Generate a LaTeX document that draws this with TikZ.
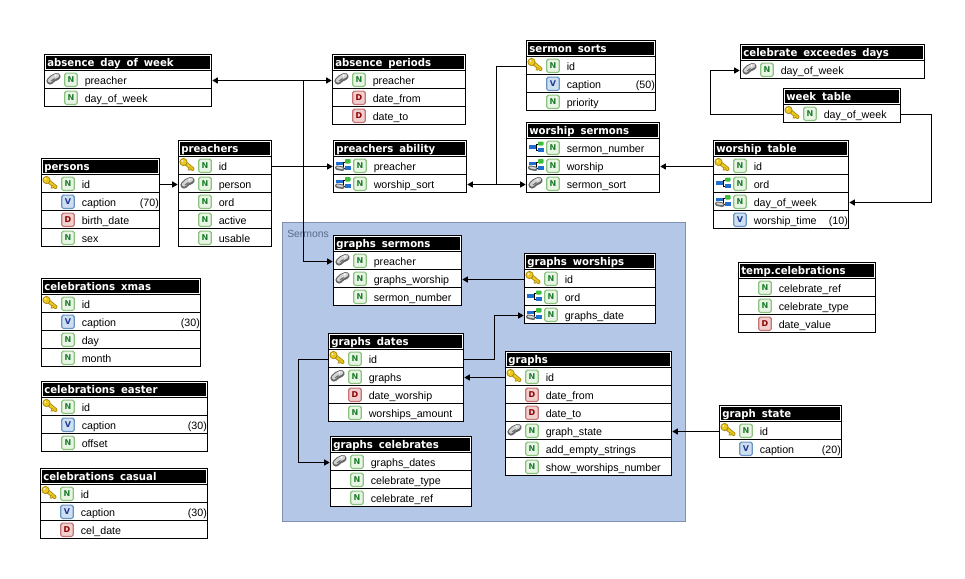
\documentclass[tikz,border=0pt]{standalone}
\usepackage{fontspec}
\setmainfont{Liberation Sans}
\newfontfamily\titlefont[FakeStretch=0.95]{DejaVu Sans}
\newfontfamily\badgefont{DejaVu Sans}
\usetikzlibrary{arrows.meta,calc}
\definecolor{groupfill}{HTML}{B4C7E7}
\definecolor{groupline}{HTML}{7F90B0}
\definecolor{grouptext}{HTML}{5A6B8C}
\definecolor{keygold}{HTML}{EDC81E}
\definecolor{keydark}{HTML}{A88A10}
\definecolor{linkdark}{HTML}{666666}
\definecolor{linklight}{HTML}{D4D4D4}
\definecolor{treeblue}{HTML}{1F6FD0}
\definecolor{treegreen}{HTML}{3CC03C}
\definecolor{Nline}{HTML}{8CC280}\definecolor{Nfill}{HTML}{E9F5E4}\definecolor{Ntext}{HTML}{1E7D2E}
\definecolor{Vline}{HTML}{6A94C4}\definecolor{Vfill}{HTML}{CFDFF2}\definecolor{Vtext}{HTML}{1F3A93}
\definecolor{Dline}{HTML}{C47474}\definecolor{Dfill}{HTML}{F0CFCF}\definecolor{Dtext}{HTML}{8B0000}
\newcommand\titlesetup{\titlefont\bfseries\fontsize{8}{9}\selectfont\spaceskip 0.55em\relax}
\tikzset{
  x=0.75pt,y=-0.75pt,
  rowbox/.style={draw=black,fill=white,line width=0.75pt,inner sep=0pt,outer sep=0pt,minimum height=13.5pt},
  headbox/.style={draw=black,fill=white,line width=0.75pt,inner sep=0pt,outer sep=0pt,minimum height=12pt},
  headbar/.style={fill=black,inner sep=0pt,outer sep=0pt,minimum height=10pt},
  headtext/.style={text=white,inner sep=0pt,anchor=base west,font=\titlesetup},
  coltext/.style={text=black,inner sep=0pt,anchor=base west,font=\fontsize{8}{9}\selectfont},
  sizetext/.style={text=black,inner sep=0pt,anchor=base east,font=\fontsize{8}{9}\selectfont},
  typebadge/.style={rounded corners=1.2pt,line width=0.9pt,minimum width=9.4pt,minimum height=10pt,inner sep=0pt,outer sep=0pt,font=\badgefont\bfseries\fontsize{6}{6}\selectfont},
  typeN/.style={typebadge,draw=Nline,fill=Nfill,text=Ntext},
  typeV/.style={typebadge,draw=Vline,fill=Vfill,text=Vtext},
  typeD/.style={typebadge,draw=Dline,fill=Dfill,text=Dtext},
  typed/.style={type#1},
  conn/.style={draw=black,line width=0.75pt},
  fk/.style={conn,-{Triangle[length=4.2pt,width=4.6pt]},shorten >=0.6pt},
  dn/.style={yshift=-0.75pt},
}
% icons, local unit = 1px, origin at (table left, row centre)
\newcommand\iconno{}
\newcommand\iconkey{%
  \draw[keydark,line width=3pt,line cap=round] (8,-1.5) -- (14,3.5);
  \draw[keygold,line width=1.7pt,line cap=round] (8,-1.5) -- (14,3.5);
  \fill[keydark] (10.5,1.5) -- (9,4.8) -- (11,5) -- (13,3) -- cycle;
  \fill[keygold] (10.7,2) -- (10,4) -- (11,4.2) -- (12.3,3) -- cycle;
  \filldraw[draw=keydark,fill=keygold,line width=0.6pt] (5,-3.5) circle (3.6);
  \fill[white] (3.8,-4.6) circle (0.9);}
\newcommand\iconlink{%
  \draw[linkdark,line width=5.4pt,line cap=round] (5.5,1.5) .. controls (8,0) and (9,-3) .. (12.5,-3);
  \draw[linklight,line width=3.2pt,line cap=round] (5.5,1) .. controls (8,-0.5) and (9,-3.5) .. (12.5,-3.8);
  \fill[white] (11,-4) circle (1.1);
  \draw[linkdark,line width=0.7pt] (6.5,1.5) -- (10,-1);}
\newcommand\icontree{%
  \draw[black,line width=0.5pt] (8,-0.5) -- (10,-0.5) (10,-3.5) -- (10,2.5) -- (12,2.5) (10,-3.5) -- (12,-3.5);
  \fill[treeblue] (2,-2.5) rectangle (9,1.5);
  \fill[treeblue] (11,0.5) rectangle (17.5,4.5);
  \fill[treegreen,rounded corners=0.6pt] (11.5,-6) rectangle (17,-2);}
\newcommand\iconfk{%
  \draw[black,line width=0.5pt] (8,-1.5) -- (10,-1.5) (10,-3.5) -- (10,2.5) -- (12,2.5) (10,-3.5) -- (12,-3.5);
  \fill[treeblue] (2,-4) rectangle (9,-0.5);
  \fill[treeblue] (11,0.5) rectangle (17.5,4.5);
  \fill[treegreen,rounded corners=0.6pt] (11.5,-6.5) rectangle (17,-2);
  \draw[linkdark,line width=3.4pt,line cap=round] (3.8,2.2) -- (8.8,3.2);
  \draw[linklight,line width=1.4pt,line cap=round] (3.8,1.9) -- (8.8,2.9);}
% #1 name, #2 left, #3 right, #4 top, #5 title, #6 rows: icon/letter/text/size
\newcommand\dbtable[6]{%
  \pgfmathsetmacro\tblW{(#3-#2)*0.75}
  \pgfmathsetmacro\tblC{(#2+#3)/2}
  \pgfmathsetmacro\tblH{#4+8}
  \node[headbox,minimum width=\tblW pt] (#1) at (\tblC,\tblH) {};
  \pgfmathsetmacro\barW{(#3-#2-2.8)*0.75}
  \pgfmathsetmacro\barX{(#2+#3+0.2)/2}
  \pgfmathsetmacro\barY{#4+8.1}
  \node[headbar,minimum width=\barW pt] (#1-bar) at (\barX,\barY) {};
  \node[headtext] (#1-title) at (#2+2.6,#4+12.3) {#5};
  \foreach \colIc/\colTy/\colTx/\colSz [count=\i] in {#6}{
    \pgfmathsetmacro\rowY{#4+16+18*(\i-0.5)}
    \node[rowbox,minimum width=\tblW pt] (#1-\i) at (\tblC,\rowY) {};
    \begin{scope}[shift={(#2,\rowY)}]
      \csname icon\colIc\endcsname
      \node[typed/.expanded=\colTy] (#1-\i-type) at (26.5,0.3) {\colTy};
      \node[coltext] (#1-\i-text) at (40,4.6) {\colTx};
    \end{scope}
    \node[sizetext] (#1-\i-size) at (#3-0.4,\rowY+4.6) {\colSz};
  }
}
\begin{document}
\begin{tikzpicture}
\useasboundingbox (0,0) rectangle (965,579);
\fill[white] (0,0) rectangle (965,579);
% group
\node[draw=groupline,fill=groupfill,line width=0.75pt,inner sep=0pt,outer sep=0pt,minimum width=302.25pt,minimum height=224.25pt] (sermonsgroup) at (484,372) {};
\node[text=grouptext,inner sep=0pt,anchor=base west,font=\fontsize{7.8}{9}\selectfont] (sermonslabel) at (287,237) {Sermons};

\dbtable{adow}{44.5}{211.5}{54.5}{absence day of week}{link/N/preacher/,no/N/day\_of\_week/}
\dbtable{absper}{332.5}{465.5}{54.5}{absence periods}{link/N/preacher/,no/D/date\_from/,no/D/date\_to/}
\dbtable{sorts}{526.5}{655.5}{40.5}{sermon sorts}{key/N/id/,no/V/caption/(50),no/N/priority/}
\dbtable{celex}{740.5}{924.5}{44.5}{celebrate exceedes days}{link/N/day\_of\_week/}
\dbtable{week}{783.5}{900.5}{88.5}{week table}{key/N/day\_of\_week/}
\dbtable{persons}{41.5}{159.5}{158.5}{persons}{key/N/id/,no/V/caption/(70),no/D/birth\_date/,no/N/sex/}
\dbtable{preachers}{178.5}{271.5}{140.5}{preachers}{key/N/id/,link/N/person/,no/N/ord/,no/N/active/,no/N/usable/}
\dbtable{ability}{333.5}{466.5}{140.5}{preachers ability}{fk/N/preacher/,fk/N/worship\_sort/}
\dbtable{wsermons}{526.5}{659.5}{122.5}{worship sermons}{tree/N/sermon\_number/,fk/N/worship/,link/N/sermon\_sort/}
\dbtable{wtable}{713.5}{848.5}{140.5}{worship table}{key/N/id/,tree/N/ord/,fk/N/day\_of\_week/,no/V/worship\_time/(10)}
\dbtable{gsermons}{333.5}{461.5}{235.5}{graphs sermons}{link/N/preacher/,link/N/graphs\_worship/,no/N/sermon\_number/}
\dbtable{gworships}{524.5}{655.5}{253.5}{graphs worships}{key/N/id/,tree/N/ord/,fk/N/graphs\_date/}
\dbtable{gdates}{328.5}{463.5}{333.5}{graphs dates}{key/N/id/,link/N/graphs/,no/D/date\_worship/,no/N/worships\_amount/}
\dbtable{graphs}{505.5}{671.5}{351.5}{graphs}{key/N/id/,no/D/date\_from/,no/D/date\_to/,link/N/graph\_state/,no/N/add\_empty\_strings/,no/N/show\_worships\_number/}
\dbtable{gcel}{330.5}{471.5}{436.5}{graphs celebrates}{link/N/graphs\_dates/,no/N/celebrate\_type/,no/N/celebrate\_ref/}
\dbtable{cxmas}{41.5}{200.5}{278.5}{celebrations xmas}{key/N/id/,no/V/caption/(30),no/N/day/,no/N/month/}
\dbtable{ceaster}{41.5}{207.5}{381.5}{celebrations easter}{key/N/id/,no/V/caption/(30),no/N/offset/}
\dbtable{ccasual}{40.5}{207.5}{468.5}{celebrations casual}{key/N/id/,no/V/caption/(30),no/D/cel\_date/}
\dbtable{tempcel}{738.5}{875.5}{262.5}{temp.celebrations}{no/N/celebrate\_ref/,no/N/celebrate\_type/,no/D/date\_value/}
\dbtable{gstate}{719.5}{841.5}{405.5}{graph state}{key/N/id/,no/V/caption/(20)}

% routing points
\coordinate (busP) at ($([dn]preachers-1.east)+(31.5,0)$);
\coordinate (busS) at ($([dn]wsermons-3.west)+(-30.5,0)$);
\coordinate (busW) at ($([dn]celex-1.west)+(-30,0)$);
\coordinate (busE) at ($([dn]week-1.east)+(31,0)$);
\coordinate (busG) at ($([dn]gdates-1.east)+(31,0)$);
\coordinate (busC) at ($([dn]gdates-1.west)+(-30,0)$);

% preachers.id fan-out
\draw[fk] ([dn]preachers-1.east) -- ([dn]ability-1.west);
\draw[fk] (busP) |- ([dn]adow-1.east);
\draw[fk] (busP) |- ([dn]absper-1.west);
\draw[fk] (busP) |- ([dn]gsermons-1.west);
% sermon_sorts.id
\draw[fk] ([dn]sorts-1.west) -| (busS) -- ([dn]wsermons-3.west);
\draw[fk] (busS) -- ([dn]ability-2.east);
% others
\draw[fk] ([dn]wtable-1.west) -- ([dn]wsermons-2.east);
\draw[fk] ([dn]week-1.west) -| (busW) -- ([dn]celex-1.west);
\draw[fk] ([dn]week-1.east) -- (busE) |- ([dn]wtable-3.east);
\draw[fk] ([dn]persons-1.east) -- ([dn]preachers-2.west);
\draw[fk] ([dn]gworships-1.west) -- ([dn]gsermons-2.east);
\draw[fk] ([dn]gdates-1.east) -- (busG) |- ([dn]gworships-3.west);
\draw[fk] ([dn]gdates-1.west) -- (busC) |- ([dn]gcel-1.west);
\draw[fk] ([dn]graphs-1.west) -- ([dn]gdates-2.east);
\draw[fk] ([dn]gstate-1.west) -- ([dn]graphs-4.east);
\end{tikzpicture}
\end{document}
